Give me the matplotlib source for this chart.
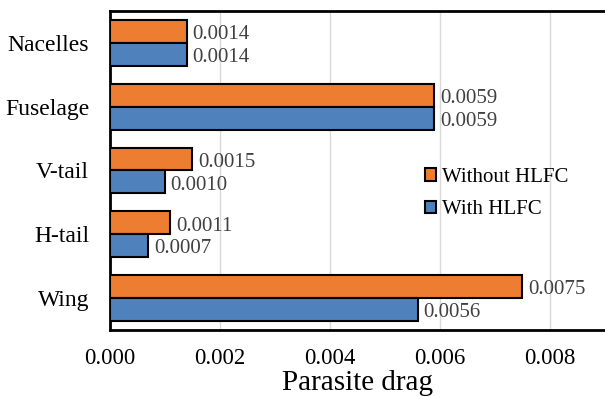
import numpy as np
import matplotlib
matplotlib.use('Agg')
from matplotlib import pyplot as plt

plt.rcParams['font.family'] = ['Liberation Serif', 'DejaVu Serif']

# drag components, listed bottom to top
parts = ['Wing', 'H-tail', 'V-tail', 'Fuselage', 'Nacelles']
without_hlfc = [0.0075, 0.0011, 0.0015, 0.0059, 0.0014]
with_hlfc = [0.0056, 0.0007, 0.0010, 0.0059, 0.0014]

ORANGE = '#ED7D31'
BLUE = '#4F81BD'

fig = plt.figure(figsize=(6.05, 3.97), dpi=100)
ax = fig.add_axes([0.1818, 0.1688, 0.818, 0.8035])

y = np.arange(len(parts))
h = 0.36
b1 = ax.barh(y + h / 2, without_hlfc, height=h, color=ORANGE, edgecolor='black',
             linewidth=1.5, label='Without HLFC', zorder=3)
b2 = ax.barh(y - h / 2, with_hlfc, height=h, color=BLUE, edgecolor='black',
             linewidth=1.5, label='With HLFC', zorder=3)

for bars, vals in ((b1, without_hlfc), (b2, with_hlfc)):
    for rect, v in zip(bars, vals):
        ax.annotate('{:.4f}'.format(v),
                    xy=(v, rect.get_y() + rect.get_height() / 2),
                    xytext=(4, -0.5), textcoords='offset points',
                    ha='left', va='center_baseline', fontsize=15, color='#404040')

ax.set_xlim(0, 0.009)
ax.set_ylim(-0.5, len(parts) - 0.5)
ax.set_xticks([0.000, 0.002, 0.004, 0.006, 0.008])
ax.set_xticklabels(['0.000', '0.002', '0.004', '0.006', '0.008'], fontsize=16.5)
ax.set_yticks(y)
ax.set_yticklabels(parts, fontsize=17)
ax.tick_params(axis='both', length=0)
ax.tick_params(axis='x', pad=13)
ax.tick_params(axis='y', pad=15)
ax.set_xlabel('Parasite drag', fontsize=21, labelpad=1)

ax.grid(axis='x', color='#D9D9D9', linewidth=1, zorder=0)
ax.set_axisbelow(True)
for s in ('top', 'bottom', 'left'):
    ax.spines[s].set_linewidth(2)
    ax.spines[s].set_color('black')
ax.spines['right'].set_visible(False)

handles = [b1, b2]
leg = ax.legend(handles, ['Without HLFC', 'With HLFC'], loc='center left',
                bbox_to_anchor=(0.636, 0.428), frameon=False, fontsize=15,
                handlelength=0.55, handleheight=0.55, handletextpad=0.3,
                labelspacing=0.65, borderpad=0, borderaxespad=0)

fig.savefig('out.png', dpi=100)
